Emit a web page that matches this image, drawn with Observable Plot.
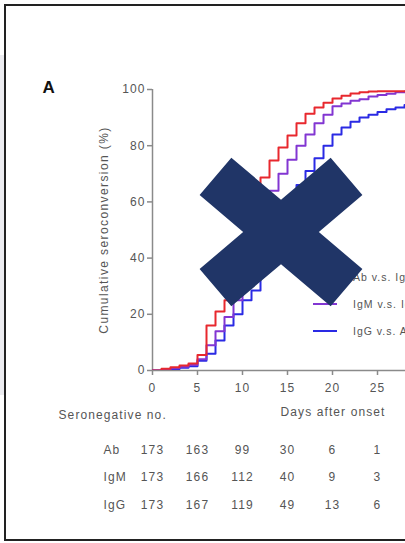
<!DOCTYPE html>
<html>
<head>
<meta charset="utf-8">
<script src="https://cdn.jsdelivr.net/npm/d3@7"></script>
<script src="https://cdn.jsdelivr.net/npm/@observablehq/plot@0.6"></script>
<style>
  html, body { margin: 0; padding: 0; background: #fff; }
  body { width: 405px; height: 543px; overflow: hidden; position: relative;
         font-family: "Liberation Sans", Arial, sans-serif; }
  #strip { position: absolute; left: 0; top: 55px; width: 4px; height: 340px; background: #ececf0; }
  #frame { position: absolute; left: 4px; top: 4px; width: 470px; height: 537px;
           border: 2px solid #222; box-sizing: border-box; }
  #chart { position: absolute; left: 0; top: 0; }
  #chart svg { letter-spacing: 1.1px; }
  #legend { position: absolute; left: 0; top: 0; width: 405px; height: 543px; overflow: hidden; }
  #legend .item { position: absolute; left: 313px; height: 14px; display: flex; align-items: center;
                  white-space: nowrap; font-size: 10.5px; letter-spacing: 1px; color: #555; }
  #legend .swatch { width: 24px; height: 2.5px; margin-right: 16px; }
  #cross { position: absolute; left: 0; top: 0; }
</style>
</head>
<body>
<div id="strip"></div>
<div id="frame"></div>
<div id="chart"></div>
<div id="legend"></div>
<svg id="cross" width="405" height="543"></svg>
<script>
// Days after symptom onset and cumulative seroconversion (%) for each antibody
const days   = d3.range(0, 31);
const abPct  = [0, 0.6, 1.2, 1.8, 2.5, 5.5, 16, 21, 25, 33, 43, 56, 68.7, 74.7, 79.4, 83.6, 88, 91.4, 93.6, 95.3,
                96.8, 97.8, 98.6, 99, 99.3, 99.4, 99.4, 99.4, 99.4, 99.4, 99.4];
const igmPct = [0, 0.3, 0.8, 1.3, 2, 4, 9, 14, 19, 25, 33, 43, 54, 64, 70, 75, 80, 84, 88, 91,
                94, 95, 96, 96.5, 97.5, 98, 98.5, 99, 99.3, 99.3, 99.3];
const iggPct = [0, 0, 0.5, 1, 1.5, 3.5, 6, 10.7, 16, 20, 25, 28.5, 36, 44, 52, 59, 66, 71, 75.5, 80,
                84, 86.5, 88.5, 90, 91, 92, 93, 93.6, 94.5, 95, 95.5];

const seriesNames  = ["Ab", "IgM", "IgG"];
const seriesColors = ["#e8282e", "#8236d2", "#2a2ae4"];

// Seronegative counts at each tick day
const tableDays = [0, 5, 10, 15, 20, 25];
const abNeg  = [173, 163, 99, 30, 6, 1];
const igmNeg = [173, 166, 112, 40, 9, 3];
const iggNeg = [173, 167, 119, 49, 13, 6];

const xTicks = [0, 5, 10, 15, 20, 25];
const yTicks = [0, 20, 40, 60, 80, 100];
const legendLabels = ["Ab v.s. IgM", "IgM v.s. IgG", "IgG v.s. Ab"];

// Long-format table for the step curves (IgG drawn first, Ab on top)
const pctBySeries = {Ab: abPct, IgM: igmPct, IgG: iggPct};
const curves = ["IgG", "IgM", "Ab"].flatMap(s =>
  days.map((d, i) => ({series: s, day: d, pct: pctBySeries[s][i]})));

const negBySeries = {Ab: abNeg, IgM: igmNeg, IgG: iggNeg};
const rowOffsets = [80, 107, 135];
const axisGrey = "#8a8a8a";
const textGrey = "#555";

const tableMarks = seriesNames.flatMap((s, r) => [
  Plot.text(tableDays.map((d, j) => ({day: d, n: negBySeries[s][j]})), {
    x: "day", y: () => 0, text: "n", dy: rowOffsets[r], lineAnchor: "middle",
    fontSize: 12, fill: textGrey
  }),
  Plot.text([s], {
    x: () => 0, y: () => 0, dx: -49, dy: rowOffsets[r], textAnchor: "start", lineAnchor: "middle",
    fontSize: 12, fill: textGrey
  })
]);

const chart = Plot.plot({
  width: 405,
  height: 543,
  marginLeft: 152,
  marginRight: 0,
  marginTop: 89,
  marginBottom: 173,
  style: {fontFamily: '"Liberation Sans", Arial, sans-serif', background: "transparent", overflow: "visible"},
  x: {domain: [0, 28.11]},
  y: {domain: [0, 100]},
  color: {domain: seriesNames, range: seriesColors},
  marks: [
    Plot.axisY({ticks: yTicks, tickSize: 5, tickPadding: 2, label: null, fontSize: 12,
                stroke: axisGrey, strokeWidth: 1.5, fill: textGrey}),
    Plot.axisX({ticks: xTicks, tickSize: 5, tickPadding: 8, label: null, fontSize: 12,
                stroke: axisGrey, strokeWidth: 1.5, fill: textGrey}),
    Plot.ruleX([0], {y1: 0, y2: 100, stroke: axisGrey, strokeWidth: 1.5}),
    Plot.ruleY([0], {stroke: axisGrey, strokeWidth: 1.5}),
    Plot.line(curves, {x: "day", y: "pct", z: "series", stroke: "series",
                       curve: "step-after", strokeWidth: 2, clip: true}),
    Plot.text(["Cumulative seroconversion (%)"], {frameAnchor: "left", rotate: -90, dx: -48,
                textAnchor: "middle", lineAnchor: "middle", fontSize: 12, fill: textGrey,
                stroke: "none"}),
    Plot.text(["Days after onset"], {frameAnchor: "bottom", dx: 54, dy: 42, lineAnchor: "middle",
                fontSize: 12, fill: textGrey}),
    Plot.text(["Seronegative no."], {frameAnchor: "bottom-left", dx: -94, dy: 45, textAnchor: "start",
                lineAnchor: "middle", fontSize: 12, fill: textGrey}),
    Plot.text(["A"], {frameAnchor: "top-left", dx: -110, dy: -2, textAnchor: "start", lineAnchor: "middle",
                fontSize: 17, fontWeight: "bold", fill: "#111"}),
    ...tableMarks
  ]
});
document.getElementById("chart").append(chart);
// a little wider spacing on the rotated axis title
d3.select(chart).selectAll("text")
  .filter(function() { return this.textContent === "Cumulative seroconversion (%)"; })
  .style("letter-spacing", "1.4px");

// Legend entries in the lower right of the plot area
const legendTops = [270, 297, 324];
const legend = d3.select("#legend");
seriesNames.forEach((s, i) => {
  const item = legend.append("div").attr("class", "item").style("top", legendTops[i] + "px");
  item.append("div").attr("class", "swatch").style("background", seriesColors[i]);
  item.append("span").text(legendLabels[i]);
});

// Large cross stamped over the figure: four arms built from one, mirrored
const cx = 281, cy = 232, armLen = 86, halfW = 24.5, slope = 0.85;
const norm = Math.hypot(1, slope);
const ux = 1 / norm, uy = slope / norm;
const tlUpper = [cx - armLen * ux + halfW * uy, cy - armLen * uy - halfW * ux];
const tlLeft  = [cx - armLen * ux - halfW * uy, cy - armLen * uy + halfW * ux];
const mx = p => [2 * cx - p[0], p[1]];
const my = p => [p[0], 2 * cy - p[1]];
const topNotch = [cx, cy - halfW * norm];
const bottomNotch = [cx, cy + halfW * norm];
const rightNotch = [cx + halfW * norm / slope, cy];
const leftNotch = [cx - halfW * norm / slope, cy];
const pts = [
  tlUpper, topNotch, mx(tlUpper), mx(tlLeft), rightNotch, mx(my(tlLeft)), mx(my(tlUpper)),
  bottomNotch, my(tlUpper), my(tlLeft), leftNotch, tlLeft
];
d3.select("#cross").append("polygon")
  .attr("points", pts.map(p => p.join(",")).join(" "))
  .attr("fill", "#203567");
</script>
</body>
</html>
